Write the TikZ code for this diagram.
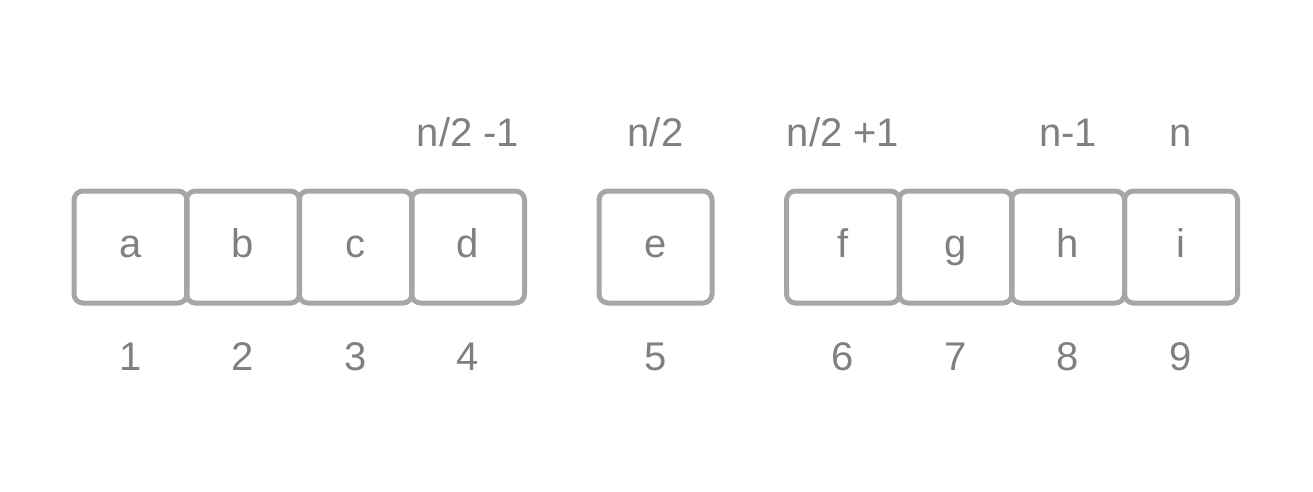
\documentclass[tikz,border=0pt]{standalone}
\usepackage{fontspec}
\setmainfont{Liberation Sans}
\usepackage{tikz}
\usetikzlibrary{positioning}
\definecolor{custcol_a6_a6_a6}{RGB}{166, 166, 166}
\definecolor{custcol_80_80_80}{RGB}{128, 128, 128}
\begin{document}
\begin{tikzpicture}[x=1pt,y=-1pt,
	cell/.style={draw=custcol_a6_a6_a6, line width=5pt, rounded corners=9pt, minimum width=113pt, minimum height=112pt, inner sep=0, text height=21pt, text depth=0pt, text=custcol_80_80_80, font=\fontsize{40pt}{40pt}\selectfont},
	idx/.style={inner sep=0, outer sep=0, text=custcol_80_80_80, anchor=base, font=\fontsize{40pt}{40pt}\selectfont}]
\useasboundingbox (0,0) rectangle (1313,491);
% cells
\node[cell] (a) at (130.5,247.0) {a};
\node[cell] (b) at (243.0,247.0) {b};
\node[cell] (c) at (355.5,247.0) {c};
\node[cell] (d) at (468.0,247.0) {d};
\node[cell] (e) at (655.5,247.0) {e};
\node[cell] (f) at (843.0,247.0) {f};
\node[cell] (g) at (955.5,247.0) {g};
\node[cell] (h) at (1068.0,247.0) {h};
\node[cell] (i) at (1181.0,247.0) {i};
% top labels
\node[idx] (td) at ([yshift=101pt]d.center) {n/2 -1};
\node[idx] (te) at ([yshift=101pt]e.center) {n/2};
\node[idx] (tf) at ([yshift=101pt]f.center) {n/2 +1};
\node[idx] (th) at ([yshift=101pt]h.center) {n-1};
\node[idx] (ti) at ([yshift=101pt]i.center) {n};
% bottom indices
\node[idx] (na) at ([yshift=-123pt]a.center) {1};
\node[idx] (nb) at ([yshift=-123pt]b.center) {2};
\node[idx] (nc) at ([yshift=-123pt]c.center) {3};
\node[idx] (nd) at ([yshift=-123pt]d.center) {4};
\node[idx] (ne) at ([yshift=-123pt]e.center) {5};
\node[idx] (nf) at ([yshift=-123pt]f.center) {6};
\node[idx] (ng) at ([yshift=-123pt]g.center) {7};
\node[idx] (nh) at ([yshift=-123pt]h.center) {8};
\node[idx] (ni) at ([yshift=-123pt]i.center) {9};
\end{tikzpicture}
\end{document}
